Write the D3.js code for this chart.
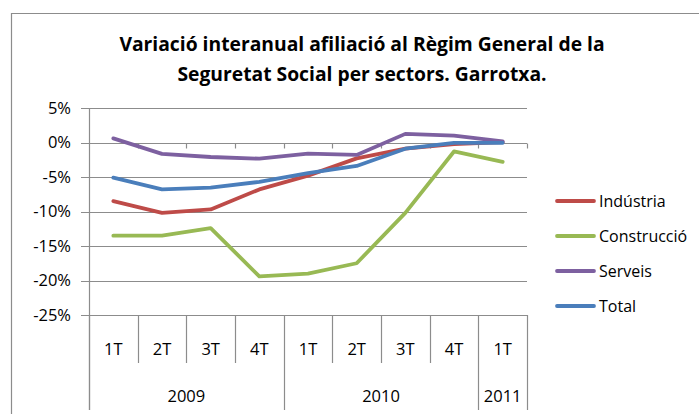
<!DOCTYPE html>
<html>
<head>
<meta charset="utf-8">
<script src="https://cdn.jsdelivr.net/npm/d3@7"></script>
<style>
  body { margin: 0; background: #fff; }
  svg { display: block; font-family: "Open Sans", "Noto Sans", sans-serif; }
</style>
</head>
<body>
<div id="chart"></div>
<script>
const width = 699;
const height = 414;

// data
const quarters = ["1T", "2T", "3T", "4T", "1T", "2T", "3T", "4T", "1T"];
const years = [
  { label: "2009", span: 4 },
  { label: "2010", span: 4 },
  { label: "2011", span: 1 }
];
const seriesNames = ["Indústria", "Construcció", "Serveis", "Total"];
const seriesColors = ["#BE4B48", "#98B954", "#7D60A0", "#4A7EBB"];
const industria = [-8.5, -10.2, -9.7, -6.8, -4.8, -2.3, -0.9, -0.25, 0.05];
const construccio = [-13.5, -13.5, -12.4, -19.4, -19.0, -17.5, -10.2, -1.3, -2.8];
const serveis = [0.6, -1.65, -2.1, -2.35, -1.6, -1.8, 1.25, 1.0, 0.15];
const total = [-5.1, -6.8, -6.55, -5.7, -4.45, -3.4, -0.9, -0.05, -0.05];
const yTicks = [5, 0, -5, -10, -15, -20, -25];

const series = [industria, construccio, serveis, total];

const margin = { left: 89, right: 527, top: 108, bottom: 315 };
const axisFont = 16.5;

const svg = d3.select("#chart").append("svg")
  .attr("width", width)
  .attr("height", height);

// chart area border (cut by picture edges)
svg.append("path")
  .attr("d", `M11.5,${height}V13.5H${width}`)
  .attr("fill", "none")
  .attr("stroke", "#8c8c8c")
  .attr("stroke-width", 1.2);

svg.append("text")
  .attr("x", 362)
  .attr("text-anchor", "middle")
  .attr("font-weight", "bold")
  .attr("font-size", 19.3)
  .attr("fill", "#000")
  .selectAll("tspan")
  .data(["Variació interanual afiliació al Règim General de la", "Seguretat Social per sectors. Garrotxa."])
  .join("tspan")
  .attr("x", 362)
  .attr("y", (d, i) => 51 + i * 30)
  .text(d => d);

const x = d3.scaleBand()
  .domain(d3.range(quarters.length))
  .range([margin.left, margin.right]);

const y = d3.scaleLinear()
  .domain([-25, 5])
  .range([margin.bottom, margin.top]);

// gridlines
svg.append("g")
  .selectAll("line")
  .data(yTicks)
  .join("line")
  .attr("x1", margin.left - 8)
  .attr("x2", margin.right)
  .attr("y1", d => Math.round(y(d)) + 0.5)
  .attr("y2", d => Math.round(y(d)) + 0.5)
  .attr("stroke", "#8c8c8c")
  .attr("stroke-width", 1.2);

// y labels
svg.append("g")
  .selectAll("text")
  .data(yTicks)
  .join("text")
  .attr("x", 71)
  .attr("y", d => y(d))
  .attr("dy", "0.35em")
  .attr("text-anchor", "end")
  .attr("font-size", axisFont)
  .text(d => d + "%");

// y axis line
svg.append("line")
  .attr("x1", margin.left + 0.5)
  .attr("x2", margin.left + 0.5)
  .attr("y1", margin.top)
  .attr("y2", 410)
  .attr("stroke", "#8c8c8c")
  .attr("stroke-width", 1.2);

// category ticks on the 0% line
const zeroY = Math.round(y(0)) + 0.5;
svg.append("g")
  .selectAll("line")
  .data(d3.range(1, quarters.length + 1))
  .join("line")
  .attr("x1", i => Math.round(margin.left + i * x.step()) + 0.5)
  .attr("x2", i => Math.round(margin.left + i * x.step()) + 0.5)
  .attr("y1", zeroY)
  .attr("y2", zeroY + 5)
  .attr("stroke", "#8c8c8c")
  .attr("stroke-width", 1.2);

// category separators below the plot
let cum = 0;
const yearBounds = new Set([0]);
years.forEach(yr => { cum += yr.span; yearBounds.add(cum); });

svg.append("g")
  .selectAll("line")
  .data(d3.range(0, quarters.length + 1))
  .join("line")
  .attr("x1", i => Math.round(margin.left + i * x.step()) + 0.5)
  .attr("x2", i => Math.round(margin.left + i * x.step()) + 0.5)
  .attr("y1", margin.bottom)
  .attr("y2", i => yearBounds.has(i) ? 410 : 363)
  .attr("stroke", "#8c8c8c")
  .attr("stroke-width", 1.2);

svg.append("g")
  .selectAll("text")
  .data(quarters)
  .join("text")
  .attr("x", (d, i) => x(i) + x.bandwidth() / 2)
  .attr("y", 349)
  .attr("dy", "0.35em")
  .attr("text-anchor", "middle")
  .attr("font-size", axisFont)
  .text(d => d);

let start = 0;
const yearPos = years.map(yr => {
  const p = { label: yr.label, cx: margin.left + (start + yr.span / 2) * x.step() };
  start += yr.span;
  return p;
});

svg.append("g")
  .selectAll("text")
  .data(yearPos)
  .join("text")
  .attr("x", d => d.cx)
  .attr("y", 396)
  .attr("dy", "0.35em")
  .attr("text-anchor", "middle")
  .attr("font-size", axisFont)
  .text(d => d.label);

// lines
const line = d3.line()
  .x((d, i) => x(i) + x.bandwidth() / 2)
  .y(d => y(d));

svg.append("g")
  .selectAll("path")
  .data(series)
  .join("path")
  .attr("d", line)
  .attr("fill", "none")
  .attr("stroke", (d, i) => seriesColors[i])
  .attr("stroke-width", 3.8)
  .attr("stroke-linejoin", "round")
  .attr("stroke-linecap", "round");

// legend
const legend = svg.append("g")
  .selectAll("g")
  .data(seriesNames)
  .join("g")
  .attr("transform", (d, i) => `translate(557,${201 + i * 35})`);

legend.append("line")
  .attr("x1", 0)
  .attr("x2", 37)
  .attr("stroke", (d, i) => seriesColors[i])
  .attr("stroke-width", 3.8)
  .attr("stroke-linecap", "round");

legend.append("text")
  .attr("x", 42)
  .attr("dy", "0.35em")
  .attr("font-size", 16)
  .text(d => d);
</script>
</body>
</html>
